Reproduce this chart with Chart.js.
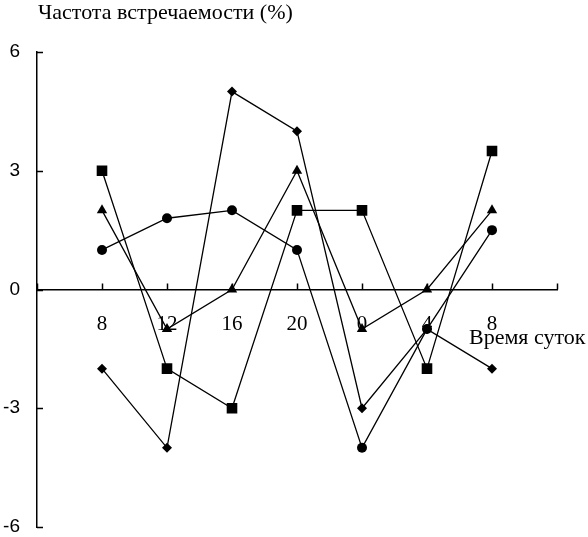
<!DOCTYPE html>
<html><head><meta charset="utf-8">
<script src="https://cdn.jsdelivr.net/npm/chart.js@4"></script>
<style>html,body{margin:0;padding:0;background:#fff}canvas{display:block}</style>
</head><body>
<canvas id="c" width="588" height="537"></canvas>
<script>
// ---- data ----
const timeLabels = ['8', '12', '16', '20', '0', '4', '8'];
const circleSeries = [1, 1.8, 2, 1, -4, -1, 1.5];
const squareSeries = [3, -2, -3, 2, 2, -2, 3.5];
const triangleSeries = [2, -1, 0, 3, -1, 0, 2];
const diamondSeries = [-2, -4, 5, 4, -3, -1, -2];
const yTickValues = [-6, -3, 0, 3, 6];
const yTitle = 'Частота встречаемости (%)';
const xTitle = 'Время суток';

// category axis padded with an empty slot on each side
const labels = ['', ...timeLabels, ''];
const pad = a => [null, ...a, null];

const SERIF = '"Liberation Serif", "Times New Roman", serif';
const SANS = '"Liberation Sans", Arial, sans-serif';

function ds(data, style, radius) {
  return {
    data: pad(data), borderColor: '#000', backgroundColor: '#000', borderWidth: 1.3,
    pointStyle: style, pointRadius: radius, pointHoverRadius: radius,
    pointBackgroundColor: '#000', pointBorderColor: '#000', pointBorderWidth: 0,
    tension: 0, fill: false
  };
}

const decor = {
  id: 'decor',
  afterDraw(chart) {
    const ctx = chart.ctx, xs = chart.scales.x, ys = chart.scales.y;
    ctx.save();
    ctx.strokeStyle = '#000';
    ctx.lineWidth = 1.5;
    const y0 = ys.getPixelForValue(0);
    ctx.beginPath();
    for (let i = 0; i < labels.length; i++) {
      const px = Math.round(xs.getPixelForValue(i)) + 0.5;
      ctx.moveTo(px, y0); ctx.lineTo(px, y0 - 6);
    }
    const xl = xs.left;
    yTickValues.forEach(v => {
      const py = Math.round(ys.getPixelForValue(v)) + 0.5;
      ctx.moveTo(xl, py); ctx.lineTo(xl + 6, py);
    });
    ctx.stroke();
    ctx.fillStyle = '#000';
    ctx.font = '22px ' + SERIF;
    ctx.textBaseline = 'alphabetic';
    ctx.textAlign = 'left';
    ctx.fillText(yTitle, 38, 19);
    ctx.fillText(xTitle, 469, 344);
    ctx.restore();
  }
};

new Chart(document.getElementById('c'), {
  type: 'line',
  data: {
    labels: labels,
    datasets: [
      ds(diamondSeries, 'rectRot', 5),
      ds(squareSeries, 'rect', 7.5),
      ds(triangleSeries, 'triangle', 6),
      ds(circleSeries, 'circle', 5)
    ]
  },
  options: {
    responsive: false, animation: false, devicePixelRatio: 1,
    layout: { padding: { top: 52, right: 31, bottom: 10, left: 0 } },
    plugins: { legend: { display: false }, tooltip: { enabled: false }, title: { display: false } },
    scales: {
      x: {
        type: 'category', position: { y: 0 }, offset: false,
        afterFit: s => { s.height = 0; s.paddingLeft = 0; s.paddingRight = 0; },
        grid: { display: false, drawTicks: false },
        border: { display: true, color: '#000', width: 1.5 },
        ticks: { color: '#000', font: { family: SERIF, size: 21 }, padding: 22, autoSkip: false, maxRotation: 0 }
      },
      y: {
        min: -6, max: 6,
        afterFit: s => { s.width = 37; s.paddingTop = 0; s.paddingBottom = 0; },
        afterBuildTicks: s => { s.ticks = yTickValues.map(v => ({ value: v })); },
        grid: { display: false, drawTicks: false },
        border: { display: true, color: '#000', width: 1.5 },
        ticks: { color: '#000', font: { family: SANS, size: 19 }, padding: 17 }
      }
    }
  },
  plugins: [decor]
});
</script>
</body></html>
